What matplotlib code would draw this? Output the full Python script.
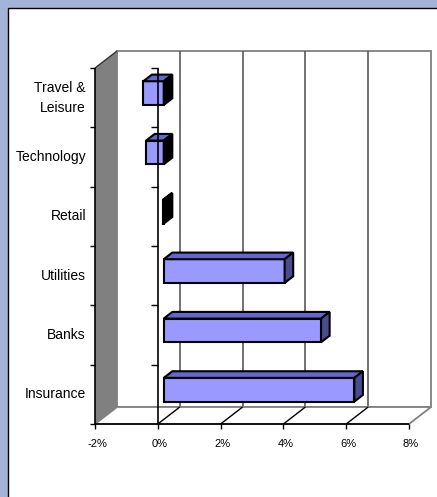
import matplotlib
matplotlib.use("Agg")
import matplotlib.pyplot as plt
from matplotlib.patches import Polygon, Rectangle

# data, bottom to top
categories = ["Insurance", "Banks", "Utilities", "Retail", "Technology", "Travel &\nLeisure"]
values = [6.07, 5.01, 3.85, -0.03, -0.56, -0.65]
x_ticks = [-2, 0, 2, 4, 6, 8]
x_tick_labels = ["-2%", "0%", "2%", "4%", "6%", "8%"]

plt.rcParams["font.family"] = ["Liberation Sans", "DejaVu Sans"]

W, H = 437, 497
fig = plt.figure(figsize=(W / 100, H / 100), dpi=100)
fig.patch.set_facecolor("#A5B3D9")

ax = fig.add_axes([0, 0, 1, 1])
ax.set_axis_off()
ax.patch.set_alpha(0)

# white chart panel with black border (runs off the right and bottom edge)
ax.add_patch(Rectangle((7.5 / W, -0.1), 1.2, 1.1 - 7.5 / H, transform=fig.transFigure,
                       facecolor="white", edgecolor="black", lw=1.0, zorder=0, clip_on=False))

# pixel layout of value axis and category axis
px_per_val = 31.4
px_per_cat = 59.33
x0_px, y0_px = 95, 424
ax.set_xlim(-2 - x0_px / px_per_val, -2 + (W - x0_px) / px_per_val)
ax.set_ylim(-(H - y0_px) / px_per_cat, y0_px / px_per_cat)

DX = 22 / px_per_val   # depth shift in value units
DY = 17 / px_per_cat   # depth shift in category units
vmin, vmax = x_ticks[0], x_ticks[-1]
ncat = len(categories)


def pt(v, c, d):
    return (v + d * DX, c + d * DY)


def poly(pts, **kw):
    ax.add_patch(Polygon(pts, closed=True, **kw))


def line(p, q, **kw):
    ax.plot([p[0], q[0]], [p[1], q[1]], solid_capstyle="butt", **kw)


# back wall
poly([pt(vmin, 0, 1), pt(vmax, 0, 1), pt(vmax, ncat, 1), pt(vmin, ncat, 1)],
     facecolor="white", edgecolor="#808080", lw=1.3, zorder=1)
for v in x_ticks[1:-1]:
    line(pt(v, 0, 1), pt(v, ncat, 1), color="#5a5a5a", lw=1.2, zorder=1.5)

# floor
poly([pt(vmin, 0, 0), pt(vmax, 0, 0), pt(vmax, 0, 1), pt(vmin, 0, 1)],
     facecolor="white", edgecolor="#808080", lw=1.3, zorder=2)
for v in x_ticks[1:-1]:
    line(pt(v, 0, 0), pt(v, 0, 1), color="black", lw=1.0, zorder=2.5)

# left wall
poly([pt(vmin, 0, 0), pt(vmin, 0, 1), pt(vmin, ncat, 1), pt(vmin, ncat, 0)],
     facecolor="#808080", edgecolor="none", zorder=3)
line(pt(vmin, ncat, 0), pt(vmin, ncat, 1), color="#333333", lw=1.0, zorder=3.5)

# axes lines and ticks
tick_len = 5 / px_per_val
line(pt(vmin, 0, 0), pt(vmax, 0, 0), color="black", lw=1.2, zorder=4)
line(pt(vmin, 0, 0), pt(vmin, ncat, 0), color="black", lw=1.2, zorder=4)
for i in range(ncat + 1):
    line(pt(vmin - tick_len, i, 0), pt(vmin, i, 0), color="black", lw=1.0, zorder=4)
for v, lab in zip(x_ticks, x_tick_labels):
    line(pt(v, 0, 0), pt(v, -5 / px_per_cat, 0), color="black", lw=1.0, zorder=4)
    ax.text(v + 2 / px_per_val, -20 / px_per_cat, lab, ha="center", va="center",
            fontsize=8, color="black")

for i, name in enumerate(categories):
    ax.text(-2 - 9 / px_per_val, i + 0.5, name, ha="right", va="center",
            multialignment="right", fontsize=10, linespacing=1.55)

# bars
d0, d1 = 0.27, 0.66
hh = 0.2
for i, val in enumerate(values):
    c = i + 0.5
    lo, hi = min(0, val), max(0, val)
    ekw = dict(edgecolor="black", lw=1.5, joinstyle="miter", zorder=5)
    poly([pt(lo, c - hh, d0), pt(hi, c - hh, d0), pt(hi, c + hh, d0), pt(lo, c + hh, d0)],
         facecolor="#9999FF", **ekw)
    poly([pt(lo, c + hh, d0), pt(hi, c + hh, d0), pt(hi, c + hh, d1), pt(lo, c + hh, d1)],
         facecolor="#6666CC", **ekw)
    side = "#4B4B8F" if val > 0 else "black"
    poly([pt(hi, c - hh, d0), pt(hi, c - hh, d1), pt(hi, c + hh, d1), pt(hi, c + hh, d0)],
         facecolor=side, **ekw)

# category axis crossing at 0%, drawn over the bars
line(pt(0, 0, 0), pt(0, ncat, 0), color="black", lw=1.2, zorder=6)
for i in range(1, ncat + 1):
    line(pt(-tick_len * 1.3, i, 0), pt(0, i, 0), color="black", lw=1.0, zorder=6)

fig.savefig("out.png", dpi=100, facecolor=fig.get_facecolor())
